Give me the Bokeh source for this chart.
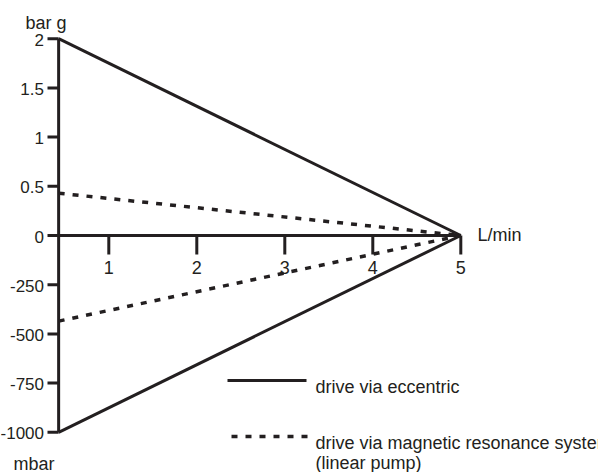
from bokeh.plotting import figure
from bokeh.models import Range1d
from bokeh.core.properties import value
from bokeh.embed import file_html
from bokeh.resources import INLINE

# ---- data ----
flow_lmin = [0.43, 5.0]                 # flow from y-axis to max flow (L/min)
eccentric_pressure_bar = [2.0, 0.0]
eccentric_vacuum_mbar = [-1000.0, 0.0]
magnetic_pressure_bar = [0.43, 0.0]
magnetic_vacuum_mbar = [-435.0, 0.0]

x_ticks = [1, 2, 3, 4, 5]
x_tick_labels = ["1", "2", "3", "4", "5"]
y_ticks = [2.0, 1.5, 1.0, 0.5, 0.0, -0.5, -1.0, -1.5, -2.0]
y_tick_labels = ["2", "1.5", "1", "0.5", "0", "-250", "-500", "-750", "-1000"]
legend_labels = ["drive via eccentric",
                 "drive via magnetic resonance system",
                 "(linear pump)"]

MBAR_PER_UNIT = 500.0   # lower half: 500 mbar per plot unit; upper half: 1 bar per unit

# ---- layout helpers (canvas pixel -> data) ----
X0, SX = 20.3, 88.0
Y0, SY = 235.0, 98.4
def fx(X): return (X - X0) / SX
def fy(Y): return (Y0 - Y) / SY
def dy(px): return px / SY

W, H = 598, 472
INK = "#231f20"
FONT = "Liberation Sans"
FS = "18px"

p = figure(width=W, height=H, output_backend="svg", toolbar_location=None,
           x_range=Range1d(fx(0), fx(W)), y_range=Range1d(fy(H), fy(0)),
           x_axis_type=None, y_axis_type=None,
           min_border_left=0, min_border_right=0, min_border_top=0, min_border_bottom=0)
p.outline_line_color = None
p.grid.visible = False
p.background_fill_color = "white"
p.border_fill_color = "white"

def txt(xs, ys, labels, align="left", baseline="alphabetic", size=FS):
    p.text(x=xs, y=ys, text=labels, text_font=value(FONT), text_font_size=size,
           text_color=INK, text_align=align, text_baseline=baseline)

# y axis at the start of the flow scale
ax_x = flow_lmin[0]
p.segment(x0=[ax_x], y0=[y_ticks[-1]], x1=[ax_x], y1=[y_ticks[0]], line_width=3, line_color=INK)
p.segment(x0=[fx(47)] * len(y_ticks), y0=y_ticks, x1=[ax_x] * len(y_ticks), y1=y_ticks,
          line_width=3, line_color=INK)
txt([fx(43.5)] * len(y_ticks), [t - dy(1) for t in y_ticks], y_tick_labels,
    align="right", baseline="middle", size="17px")

# x axis at y = 0
p.segment(x0=[ax_x], y0=[0], x1=[x_ticks[-1]], y1=[0], line_width=3, line_color=INK)
p.segment(x0=x_ticks, y0=[0] * len(x_ticks), x1=x_ticks, y1=[-dy(19)] * len(x_ticks),
          line_width=3, line_color=INK)
txt(x_ticks, [fy(267)] * len(x_ticks), x_tick_labels, align="center", baseline="middle")

# curves
p.line(flow_lmin, eccentric_pressure_bar, line_width=3, line_color=INK)
p.line(flow_lmin, [v / MBAR_PER_UNIT for v in eccentric_vacuum_mbar], line_width=3, line_color=INK)
p.line(flow_lmin, magnetic_pressure_bar, line_width=3.5, line_color=INK, line_dash="6 8")
p.line(flow_lmin, [v / MBAR_PER_UNIT for v in magnetic_vacuum_mbar], line_width=3.5,
       line_color=INK, line_dash="6 8")

# unit labels
txt([fx(25)], [fy(22)], ["bar g"])
txt([fx(13)], [fy(463)], ["mbar"])
txt([fx(477)], [fy(234)], ["L/min"])

# legend
p.line([fx(227), fx(306)], [fy(380), fy(380)], line_width=3, line_color=INK)
p.line([fx(231), fx(307)], [fy(436), fy(436)], line_width=3.5, line_color=INK, line_dash="6 8")
txt([fx(315)] * 3, [fy(386), fy(442), fy(462)], legend_labels)

open("out.html", "w").write(file_html(p, INLINE))
